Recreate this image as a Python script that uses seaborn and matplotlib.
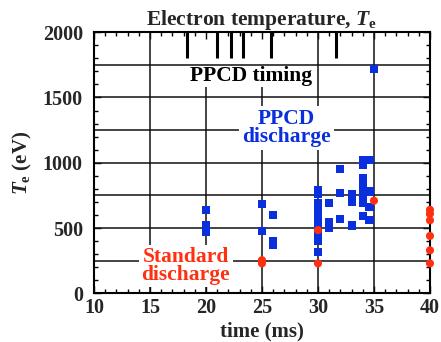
import matplotlib
matplotlib.use("Agg")
import matplotlib.pyplot as plt
import seaborn as sns
import pandas as pd

# ---- data ----
ppcd_time = [20, 20, 20, 20,
             25, 25,
             26, 26, 26,
             30, 30, 30, 30, 30, 30, 30, 30, 30, 30, 30, 30,
             31, 31, 31,
             32, 32, 32,
             33, 33, 33,
             34, 34, 34, 34, 34, 34, 34, 34,
             34.6, 34.6, 34.6, 34.6,
             35]
ppcd_te = [640, 520, 500, 470,
           685, 480,
           600, 400, 370,
           790, 760, 690, 660, 620, 580, 550, 510, 470, 430, 400, 320,
           690, 550, 500,
           950, 770, 570,
           760, 700, 520,
           1020, 980, 880, 830, 780, 730, 690, 590,
           1020, 780, 660, 560,
           1720]
std_time = [25, 25, 30, 30, 35, 40, 40, 40, 40, 40, 40]
std_te = [255, 230, 485, 230, 710, 640, 610, 560, 440, 330, 230]
ppcd_timing = [18.3, 21.0, 22.2, 23.3, 25.8, 31.6]

x_ticks = [10, 15, 20, 25, 30, 35, 40]
y_ticks = [0, 500, 1000, 1500, 2000]

BLUE = "#0a2fdc"
RED = "#ff3010"

df = pd.DataFrame({
    "time": ppcd_time + std_time,
    "te": ppcd_te + std_te,
    "kind": ["PPCD"] * len(ppcd_time) + ["Standard"] * len(std_time),
})

sns.set_theme(style="ticks")
plt.rcParams["font.family"] = ["Liberation Serif", "DejaVu Serif"]
plt.rcParams["font.weight"] = "bold"
plt.rcParams["mathtext.fontset"] = "custom"
plt.rcParams["mathtext.rm"] = "Liberation Serif:bold"
plt.rcParams["mathtext.it"] = "Liberation Serif:italic:bold"
plt.rcParams["mathtext.bf"] = "Liberation Serif:bold"

fig = plt.figure(figsize=(4.41, 3.42), dpi=100)
ax = fig.add_axes([0.213, 0.142, 0.762, 0.764])

# grid
for yv in [250, 500, 750, 1000, 1250, 1500, 1750]:
    ax.axhline(yv, color="#111111", lw=1.1, zorder=1)
ax.vlines([15, 35, 30], 0, 2000, color="#111111", lw=1.1, zorder=1)
ax.vlines([20, 25], 0, 1577, color="#111111", lw=1.1, zorder=1)

# PPCD timing marks
ax.vlines(ppcd_timing, 1800, 2000, color="black", lw=2.2, zorder=2)

sns.scatterplot(data=df, x="time", y="te", hue="kind", style="kind",
                markers={"PPCD": "s", "Standard": "o"},
                palette={"PPCD": BLUE, "Standard": RED},
                s=34, linewidth=0, legend=False, ax=ax, zorder=4,
                clip_on=False)

ax.text(24.0, 1665, "PPCD timing", ha="center", va="center",
        fontsize=15.5, fontweight="bold", color="black", zorder=2)
ax.text(27.2, 1266, "PPCD\ndischarge", ha="center", va="center",
        fontsize=15.5, fontweight="bold", color=BLUE, linespacing=0.85, zorder=2,
        bbox=dict(boxstyle="square,pad=0.15", fc="white", ec="none"))
ax.text(18.2, 210, "Standard\ndischarge", ha="center", va="center",
        fontsize=15.5, fontweight="bold", color=RED, linespacing=0.85, zorder=2,
        bbox=dict(boxstyle="square,pad=0.12", fc="white", ec="none"))

ax.set_xlim(10, 40)
ax.set_ylim(0, 2000)
ax.set_xticks(x_ticks)
ax.set_yticks(y_ticks)
ax.set_xticks(range(10, 41), minor=True)
ax.set_yticks(range(0, 2001, 100), minor=True)
ax.tick_params(which="both", direction="in", top=True, right=True,
               labelsize=14.5, width=1.0, color="black")
ax.tick_params(which="major", length=5)
ax.tick_params(which="minor", length=3)
for lab in ax.get_xticklabels() + ax.get_yticklabels():
    lab.set_fontweight("bold")
ax.tick_params(axis="x", pad=3)
ax.tick_params(axis="y", pad=8)
for sp in ax.spines.values():
    sp.set_linewidth(1.5)
    sp.set_color("black")

ax.set_xlabel("time (ms)", fontsize=15, fontweight="bold", labelpad=3)
ax.set_ylabel(r"$T_\mathrm{e}$ (eV)", fontsize=15, fontweight="bold", labelpad=6)
ax.set_title(r"Electron temperature, $T_\mathrm{e}$", fontsize=15.5,
             fontweight="bold", pad=4)

fig.savefig("out.png", dpi=100)
